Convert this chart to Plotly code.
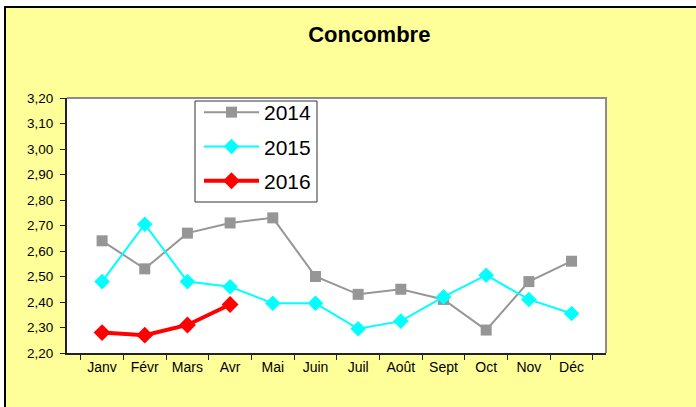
import plotly.graph_objects as go

months = ["Janv", "Févr", "Mars", "Avr", "Mai", "Juin", "Juil", "Août", "Sept", "Oct", "Nov", "Déc"]
v2014 = [2.64, 2.53, 2.67, 2.71, 2.73, 2.50, 2.43, 2.45, 2.41, 2.29, 2.48, 2.56]
v2015 = [2.48, 2.705, 2.48, 2.46, 2.395, 2.395, 2.295, 2.325, 2.42, 2.505, 2.41, 2.355]
v2016 = [2.28, 2.27, 2.31, 2.39]
yticks = [2.20, 2.30, 2.40, 2.50, 2.60, 2.70, 2.80, 2.90, 3.00, 3.10, 3.20]

W, H = 696, 407
L, R, T, B = 67, 90, 98, 54
pw, ph = W - L - R, H - T - B

def px_x(x):
    return (x - L) / pw

def px_y(y):
    return (H - B - y) / ph

fig = go.Figure()
fig.add_trace(go.Scatter(x=months, y=v2014, name="2014", mode="lines+markers",
                         line=dict(color="#969696", width=2),
                         marker=dict(symbol="square", size=11, color="#969696"),
                         legendgroup="a"))
fig.add_trace(go.Scatter(x=months, y=v2015, name="2015", mode="lines+markers",
                         line=dict(color="#00FFFF", width=2),
                         marker=dict(symbol="diamond", size=12, color="#00FFFF"),
                         legendgroup="b"))
fig.add_trace(go.Scatter(x=months[:len(v2016)], y=v2016, name="2016", mode="lines+markers",
                         line=dict(color="#FF0000", width=4),
                         marker=dict(symbol="diamond", size=13, color="#FF0000"),
                         legendgroup="c"))

shapes = [
    # white strips outside the yellow frame
    dict(type="rect", xref="paper", yref="paper",
         x0=px_x(-10), x1=px_x(720), y0=px_y(7), y1=px_y(-10),
         fillcolor="white", line=dict(width=0), layer="below"),
    dict(type="rect", xref="paper", yref="paper",
         x0=px_x(-10), x1=px_x(5), y0=px_y(430), y1=px_y(-10),
         fillcolor="white", line=dict(width=0), layer="below"),
    # black frame lines
    dict(type="line", xref="paper", yref="paper",
         x0=px_x(4), x1=px_x(720), y0=px_y(7), y1=px_y(7),
         line=dict(color="black", width=2), layer="below"),
    dict(type="line", xref="paper", yref="paper",
         x0=px_x(5), x1=px_x(5), y0=px_y(6), y1=px_y(430),
         line=dict(color="black", width=2), layer="below"),
    # gray top/right plot border
    dict(type="path", xref="paper", yref="paper",
         path="M 0,1 L 1,1 L 1,0", line=dict(color="#8C8C8C", width=2), layer="above"),
    # legend box
    dict(type="rect", xref="paper", yref="paper",
         x0=px_x(195), x1=px_x(317), y0=px_y(202), y1=px_y(101),
         fillcolor="white", line=dict(color="#333333", width=1), layer="above"),
]

fig.update_layout(
    width=W, height=H,
    margin=dict(l=L, r=R, t=T, b=B),
    paper_bgcolor="#FFFF99", plot_bgcolor="white",
    separators=", ",
    font=dict(family="Liberation Sans, Arial, sans-serif", color="black", size=13),
    title=dict(text="<b>Concombre</b>", x=px_x(353), xanchor="center",
               y=1 - 34 / H, yanchor="middle",
               font=dict(size=22, color="black")),
    showlegend=True,
    legend=dict(x=px_x(199), y=px_y(92), xanchor="left", yanchor="top",
                bgcolor="rgba(0,0,0,0)", borderwidth=0,
                font=dict(size=21, color="black"),
                traceorder="grouped", tracegroupgap=4, itemwidth=55),
    shapes=shapes,
    xaxis=dict(type="category", showgrid=False, zeroline=False,
               showline=True, linecolor="#222222", linewidth=2,
               ticks="outside", tickson="boundaries", ticklen=5, tickcolor="#222222",
               tickfont=dict(size=14), fixedrange=True),
    yaxis=dict(range=[2.20, 3.20], tickvals=yticks, tickformat=".2f",
               showgrid=False, zeroline=False,
               showline=True, linecolor="#222222", linewidth=2,
               ticks="outside", ticklen=5, tickcolor="#222222", ticklabelstandoff=4,
               tickfont=dict(size=13.5), fixedrange=True),
)

fig.write_html("out.html", config={"displayModeBar": False},
               post_script="document.body.style.margin='0';")
